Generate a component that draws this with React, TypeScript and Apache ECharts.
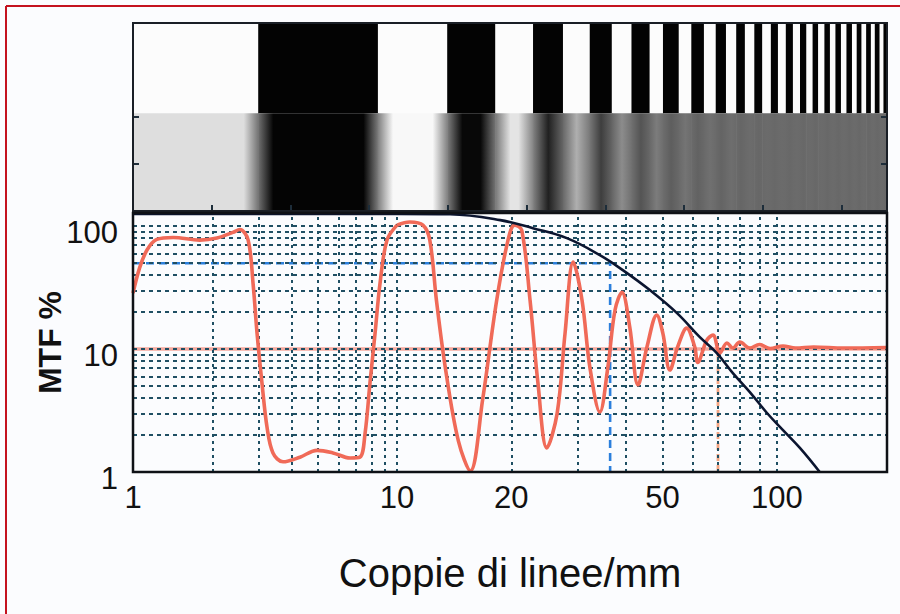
import { useEffect, useRef } from "react";
import * as echarts from "echarts";

// ---------------- data ----------------
const xTickLabelsLow = [1, 10];
const xTickLabelsHigh = [20, 50, 100];
const yTickLabels = [1, 10, 100];
const xGridLow = [2, 3, 4, 5, 6, 7, 8, 9];
const xGridHigh = [10, 20, 30, 40, 50, 60, 70, 80, 90, 100];
const yGrid = [2, 3, 4, 5, 6, 7, 8, 9, 10, 20, 30, 40, 50, 60, 70, 80, 90, 100];

// measured MTF (red), lp/mm vs %
const redLow: [number, number][] = [
  [1, 28.5], [1.06, 46], [1.13, 64], [1.23, 78], [1.42, 81], [1.79, 77], [2.08, 80],
  [2.39, 89], [2.54, 94], [2.73, 77], [2.85, 34], [2.95, 13.5], [3.08, 5.3], [3.22, 2.3],
  [3.39, 1.43], [3.7, 1.21], [4.29, 1.32], [4.98, 1.5], [5.72, 1.43], [6.64, 1.3],
  [7.24, 1.32], [7.57, 2.07], [7.9, 5.3], [8.26, 13.5], [8.62, 34], [9.16, 77], [10, 102],
];
const redHigh: [number, number][] = [
  [10, 102], [10.8, 108], [11.7, 102], [12.2, 77], [12.7, 25], [13.4, 7.1], [14.5, 1.8],
  [15.6, 1.02], [16.8, 3.85], [18.3, 25], [19.6, 77], [20.4, 102], [21.3, 93], [22.4, 25],
  [23.5, 5.3], [24.8, 1.57], [26.4, 3.0], [27.7, 13.5], [29.1, 51], [30.7, 25], [32.2, 7.1],
  [34.2, 3.07], [35.9, 7.1], [37.5, 20.8], [39.1, 29], [41, 15.1], [43.1, 5.1], [45.5, 10.4],
  [48.3, 18.9], [50.1, 13.5], [52.3, 6.75], [54.8, 10.4], [57.9, 14.8], [60.8, 10.4],
  [61.9, 7.8], [65.4, 11.8], [67.9, 13], [70.8, 9.3], [73.9, 11.2], [76.6, 10.2],
  [79.9, 11.4], [84.9, 10.2], [90, 10.9], [96, 10.1], [103.8, 10.6], [112, 10.2],
  [125, 10.4], [150, 10.2], [195, 10.3],
];
// theoretical MTF (black)
const blackLow: [number, number][] = [[1, 126], [10, 126]];
const blackHigh: [number, number][] = [
  [10, 126], [13.8, 125], [18.7, 112], [22.8, 96.3], [28, 79.9], [34.2, 58.1], [39.3, 43.9],
  [46.3, 30.2], [54.6, 19.6], [62.7, 12.5], [69.5, 9.28], [76.6, 6.38], [84.9, 4.47],
  [94.2, 3.02], [103.8, 2.19], [115, 1.57], [129.7, 1],
];
const mtf50Level = 50;
const mtf50Freq = 36.4;
const mtf10Freq = 70;
const mtf10Level = 10;
const noiseLevel = 10;

// bar target (position along the target, arbitrary units)
const targetEdges = [
  0, 1.59, 3.11, 3.99, 4.6, 5.08, 5.46, 5.8, 6.08, 6.33, 6.56, 6.73, 6.93, 7.09, 7.25, 7.4,
  7.53, 7.66, 7.77, 7.89, 7.99, 8.1, 8.19, 8.29, 8.38, 8.47, 8.55, 8.63, 8.7, 8.78, 8.85,
  8.92, 8.99, 9.06, 9.13, 9.19, 9.25, 9.31, 9.37, 9.42, 9.48, 9.53, 9.575,
];
// grey level of each bar after blurring (0-255)
const targetBlur = [
  222, 4, 248, 8, 228, 32, 175, 62, 140, 84, 124, 94, 116, 98, 112, 100, 110, 102, 108, 103,
  107, 104, 107, 104, 107, 104, 107, 104, 107, 104, 107, 104, 107, 104, 107, 104, 107, 104,
  107, 104, 107, 104,
];
const targetXTicks = [1, 2, 3, 4, 5, 6, 7, 8, 9];
const targetYTicks = [1, 2];

// ---------------- layout ----------------
const PL = 133, PM = 397, PR = 887, PT = 213, PB = 472;
const IT = 23, IB = 211;
const X_MIN = 1, X_SPLIT = 10, X_MAX = 195, Y_MIN = 1, Y_MAX = 128;
const T_MAX = 9.575, BAND_SPLIT = 2.08, T_TOP = 4;
const FONT = "'Liberation Sans', Arial, Helvetica, sans-serif";
const GRID_COLOR = "#1f4f63";

export default function App() {
  const ref = useRef<HTMLDivElement>(null);
  useEffect(() => {
    if (!ref.current) return;
    const chart = echarts.init(ref.current, undefined, { renderer: "svg" });
    const grey = (v: number) => {
      const c = Math.round(v);
      return `rgb(${c},${c},${c})`;
    };
    const nBars = targetEdges.length - 1;
    const targetData = targetEdges.slice(0, -1).map((e, i) => [e, targetEdges[i + 1], i]);

    const gridMark = (xs: number[]) => ({
      silent: true,
      symbol: ["none", "none"],
      label: { show: false },
      animation: false,
      data: [
        ...xs.map((v) => ({ xAxis: v, lineStyle: { color: GRID_COLOR, width: 2, type: [3, 4] } })),
        ...yGrid.map((v) => ({ yAxis: v, lineStyle: { color: GRID_COLOR, width: 2, type: [4, 4] } })),
      ],
    });

    const lineBase = { type: "line", showSymbol: false, symbol: "none", silent: true, animation: false };
    const A = { xAxisIndex: 1, yAxisIndex: 2 };
    const B = { xAxisIndex: 2, yAxisIndex: 3 };
    const labelStyle = { fontSize: 31, fontFamily: FONT, color: "#111" };

    const option: any = {
      animation: false,
      backgroundColor: "#fbfcfe",
      grid: [
        { left: PL, top: IT, width: PR - PL, height: IB - IT, containLabel: false, outerBoundsMode: "none" },
        { left: PL, top: PT, width: PM - PL, height: PB - PT, containLabel: false, outerBoundsMode: "none" },
        { left: PM, top: PT, width: PR - PM, height: PB - PT, containLabel: false, outerBoundsMode: "none" },
      ],
      xAxis: [
        {
          gridIndex: 0, type: "value", min: 0, max: T_MAX, z: 10,
          axisLine: { show: false }, splitLine: { show: false }, axisLabel: { show: false },
          axisTick: { show: true, inside: true, length: 6, customValues: targetXTicks, lineStyle: { color: "#1d2d3a", width: 2 } },
        },
        {
          gridIndex: 1, type: "log", logBase: 10, min: X_MIN, max: X_SPLIT,
          axisLine: { show: false }, axisTick: { show: false }, splitLine: { show: false },
          axisLabel: { ...labelStyle, customValues: xTickLabelsLow, margin: 10, formatter: (v: number) => String(Math.round(v)) },
        },
        {
          gridIndex: 2, type: "log", logBase: 10, min: X_SPLIT, max: X_MAX,
          axisLine: { show: false }, axisTick: { show: false }, splitLine: { show: false },
          axisLabel: { ...labelStyle, customValues: xTickLabelsHigh, margin: 10, formatter: (v: number) => String(Math.round(v)) },
        },
      ],
      yAxis: [
        {
          gridIndex: 0, type: "value", min: 0, max: T_TOP, z: 10,
          axisLine: { show: false }, splitLine: { show: false }, axisLabel: { show: false },
          axisTick: { show: true, inside: true, length: 6, customValues: targetYTicks, lineStyle: { color: "#1d2d3a", width: 2 } },
        },
        {
          gridIndex: 0, type: "value", min: 0, max: T_TOP, position: "right", z: 10,
          axisLine: { show: false }, splitLine: { show: false }, axisLabel: { show: false },
          axisTick: { show: true, inside: true, length: 6, customValues: targetYTicks, lineStyle: { color: "#1d2d3a", width: 2 } },
        },
        {
          gridIndex: 1, type: "log", logBase: 10, min: Y_MIN, max: Y_MAX,
          axisLine: { show: false }, axisTick: { show: false }, splitLine: { show: false },
          axisLabel: {
            ...labelStyle, customValues: yTickLabels, margin: 15,
            verticalAlign: "top", lineHeight: 12,
            formatter: (v: number) => String(Math.round(v)),
          },
        },
        { gridIndex: 2, type: "log", logBase: 10, min: Y_MIN, max: Y_MAX, show: false },
      ],
      series: [
        {
          type: "custom", xAxisIndex: 0, yAxisIndex: 0, silent: true, animation: false,
          encode: { x: [0, 1] },
          data: targetData,
          renderItem: (_params: any, api: any) => {
            const x0 = api.value(0), x1 = api.value(1), i = api.value(2);
            const pTop = api.coord([x0, T_TOP]);
            const pSplit = api.coord([x1, BAND_SPLIT]);
            const pBot = api.coord([x1, 0]);
            const left = pTop[0];
            const w = pSplit[0] - left;
            const tone = targetBlur[i];
            const prev = i > 0 ? (targetBlur[i - 1] + tone) / 2 : tone;
            const next = i < nBars - 1 ? (targetBlur[i + 1] + tone) / 2 : tone;
            const off = Math.min(0.5, 15 / w);
            return {
              type: "group",
              children: [
                {
                  type: "rect",
                  shape: { x: left, y: pTop[1], width: w + 0.6, height: pSplit[1] - pTop[1] },
                  style: { fill: i % 2 === 0 ? "#fcfcfc" : "#030303" },
                },
                {
                  type: "rect",
                  shape: { x: left, y: pSplit[1], width: w + 0.6, height: pBot[1] - pSplit[1] },
                  style: {
                    fill: {
                      type: "linear", x: 0, y: 0, x2: 1, y2: 0,
                      colorStops: [
                        { offset: 0, color: grey(prev) },
                        { offset: off, color: grey(tone) },
                        { offset: 1 - off, color: grey(tone) },
                        { offset: 1, color: grey(next) },
                      ],
                    },
                  },
                },
              ],
            };
          },
        },
        { ...lineBase, ...A, name: "gridA", data: [[1, 1]], lineStyle: { opacity: 0 }, z: 1, markLine: gridMark(xGridLow) },
        { ...lineBase, ...B, name: "gridB", data: [[10, 1]], lineStyle: { opacity: 0 }, z: 1, markLine: gridMark(xGridHigh) },
        { ...lineBase, ...A, name: "noiseA", data: [[X_MIN, noiseLevel], [X_SPLIT, noiseLevel]], z: 3, lineStyle: { color: "#f4a093", width: 3.5, opacity: 0.9 } },
        { ...lineBase, ...B, name: "noiseB", data: [[X_SPLIT, noiseLevel], [X_MAX, noiseLevel]], z: 3, lineStyle: { color: "#f4a093", width: 3.5, opacity: 0.9 } },
        { ...lineBase, ...A, name: "mtf50A", data: [[X_MIN, mtf50Level], [X_SPLIT, mtf50Level]], z: 4, lineStyle: { color: "#2b7fdc", width: 2.6, type: [8, 5] } },
        { ...lineBase, ...B, name: "mtf50B", data: [[X_SPLIT, mtf50Level], [mtf50Freq, mtf50Level], [mtf50Freq, Y_MIN]], z: 4, lineStyle: { color: "#2b7fdc", width: 2.6, type: [8, 5] } },
        { ...lineBase, ...B, name: "mtf10", data: [[mtf10Freq, Y_MIN], [mtf10Freq, mtf10Level]], z: 4, lineStyle: { color: "#f5a582", width: 2.8, type: [7, 4] } },
        { ...lineBase, ...A, name: "redA", data: redLow, smooth: 0.35, z: 5, lineStyle: { color: "#f06a58", width: 3.6 } },
        { ...lineBase, ...B, name: "redB", data: redHigh, smooth: 0.35, z: 5, lineStyle: { color: "#f06a58", width: 3.6 } },
        { ...lineBase, ...A, name: "blackA", data: blackLow, z: 6, lineStyle: { color: "#0b1530", width: 2.6 } },
        { ...lineBase, ...B, name: "blackB", data: blackHigh, smooth: 0.4, z: 6, lineStyle: { color: "#0b1530", width: 2.6 } },
      ],
      graphic: [
        { type: "line", z: 100, shape: { x1: 6, y1: 6, x2: 900, y2: 6 }, style: { stroke: "#c4121f", lineWidth: 2 } },
        { type: "line", z: 100, shape: { x1: 6, y1: 6, x2: 6, y2: 614 }, style: { stroke: "#c4121f", lineWidth: 2 } },
        { type: "rect", z: 100, shape: { x: PL, y: IT, width: PR - PL, height: IB - IT }, style: { fill: "none", stroke: "#1a1f26", lineWidth: 2 } },
        { type: "rect", z: 100, shape: { x: PL, y: PT, width: PR - PL, height: PB - PT }, style: { fill: "none", stroke: "#0e1116", lineWidth: 2.5 } },
        {
          type: "text", z: 100, x: (PL + PR) / 2, y: 573,
          style: { text: "Coppie di linee/mm", font: `40px ${FONT}`, fill: "#111", align: "center", verticalAlign: "middle", textAlign: "center", textVerticalAlign: "middle" },
        },
        {
          type: "text", z: 100, x: 50, y: (PT + PB) / 2, rotation: Math.PI / 2,
          style: { text: "MTF %", font: `bold 32px ${FONT}`, fill: "#111", align: "center", verticalAlign: "middle", textAlign: "center", textVerticalAlign: "middle" },
        },
      ],
    };
    chart.setOption(option);
    return () => chart.dispose();
  }, []);
  return <div ref={ref} style={{ position: "fixed", left: 0, top: 0, width: 900, height: 614 }} />;
}
